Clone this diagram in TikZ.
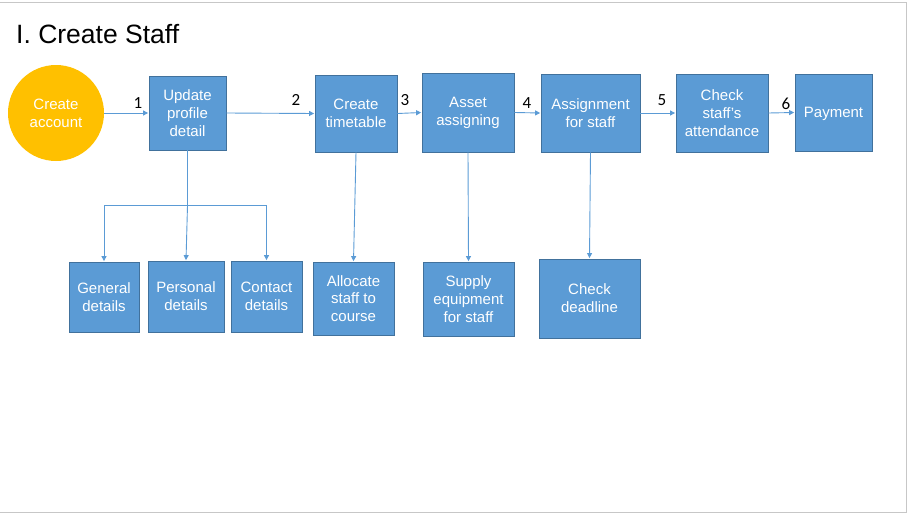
\documentclass[tikz,border=0pt]{standalone}
\usepackage{fontspec}
\setmainfont{Liberation Sans}
\newfontfamily\numfont{Carlito}
\usetikzlibrary{arrows.meta}
\definecolor{boxfill}{HTML}{5B9BD5}
\definecolor{boxline}{HTML}{41719C}
\definecolor{linecol}{HTML}{5B9BD5}
\definecolor{circfill}{HTML}{FFC000}
\begin{document}
\begin{tikzpicture}[x=1pt,y=-1pt,
  box/.style={draw=boxline, line width=0.8pt, fill=boxfill, text=white,
    font=\fontsize{15}{17.8}\selectfont, align=center, inner sep=0pt},
  circ/.style={circle, fill=circfill, text=white, minimum size=96pt, inner sep=0pt,
    font=\fontsize{15}{17.8}\selectfont, align=center},
  conn/.style={draw=linecol, line width=0.9pt, -{Triangle[length=5pt,width=5pt]}, shorten >=0.5pt},
  plain/.style={draw=linecol, line width=0.9pt},
  num/.style={font=\numfont\fontsize{17}{19}\selectfont, text=black, inner sep=0pt}]
\useasboundingbox (0,0) rectangle (908,514);
\draw[black!22, line width=1pt] (0,2.5) -- (906.5,2.5) -- (906.5,512) -- (0,512);
\node[anchor=west, font=\fontsize{26.5}{30}\selectfont, inner sep=0pt] (title) at (16,34) {I. Create Staff};

\node[circ] (acc) at (56,113) {Create\\account};
\node[box, minimum width=77pt, minimum height=74pt] (upd) at (187.5,113) {Update\\profile\\detail};
\node[box, minimum width=82pt, minimum height=77pt] (tt) at (356,113.5) {Create\\timetable};
\node[box, minimum width=92pt, minimum height=79pt] (asset) at (468,112.5) {Asset\\assigning};
\node[box, minimum width=99pt, minimum height=78pt] (asg) at (590.5,113) {Assignment\\for staff};
\node[box, minimum width=92pt, minimum height=78pt] (att) at (722,113) {Check\\staff's\\attendance};
\node[box, minimum width=77pt, minimum height=77pt] (pay) at (833.5,112.5) {\raisebox{-1.5pt}[8pt][2pt]{Payment}};

\node[box, minimum width=70pt, minimum height=70pt] (gen) at (104,297) {General\\details};
\node[box, minimum width=76pt, minimum height=71pt] (per) at (186,296.5) {Personal\\details};
\node[box, minimum width=71pt, minimum height=71pt] (con) at (266.5,296.5) {Contact\\details};
\node[box, minimum width=81pt, minimum height=73pt] (alloc) at (353.5,298.5) {Allocate\\staff to\\course};
\node[box, minimum width=91pt, minimum height=74pt] (sup) at (468.5,299) {Supply\\equipment\\for staff};
\node[box, minimum width=101pt, minimum height=79pt] (dl) at (589.5,298.5) {Check\\deadline};

\draw[conn] (acc.east) -- (upd.west);
\draw[conn] (upd.east) -- (tt.west);
\draw[conn] (tt.east) -- (asset.west);
\draw[conn] (asset.east) -- (asg.west);
\draw[conn] (asg.east) -- (att.west);
\draw[conn] (att.east) -- (pay.west);

\coordinate (fork) at (187.5,205.5);
\draw[plain] (upd.south) -- (fork);
\draw[conn] (fork) -| (gen.north);
\draw[conn] (fork) -| (con.north);
\draw[conn] (fork) -- (per.north);

\draw[conn] (tt.south) -- (alloc.north);
\draw[conn] (asset.south) -- (sup.north);
\draw[conn] (asg.south) -- (dl.north);

\node[num] (n1) at (138,103) {1};
\node[num] (n2) at (296,100) {2};
\node[num] (n3) at (405,100) {3};
\node[num] (n4) at (527,103) {4};
\node[num] (n5) at (662,100) {5};
\node[num] (n6) at (786,104) {6};
\end{tikzpicture}
\end{document}
